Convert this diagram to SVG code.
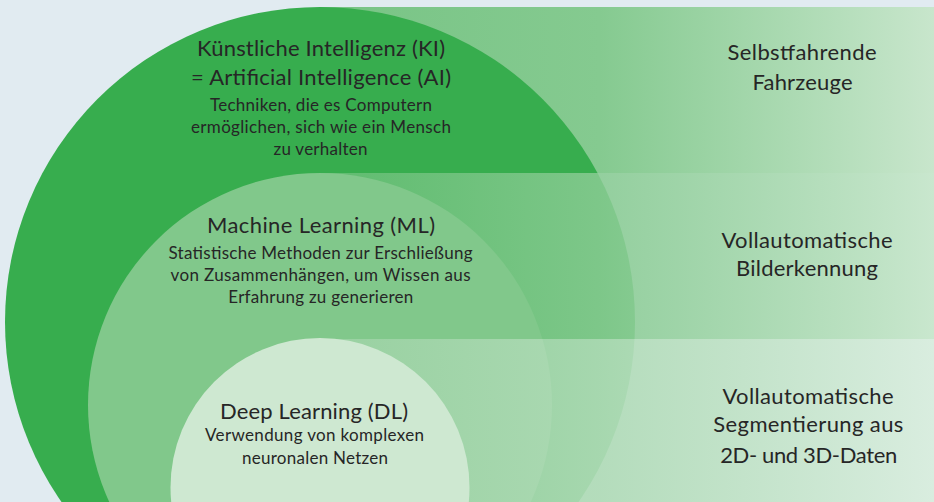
<svg xmlns="http://www.w3.org/2000/svg" width="934" height="502" viewBox="0 0 934 502">
  <defs>
    <!-- horizontal bands fade from the circle tint on the left to a pale tint on the right -->
    <linearGradient id="bandTop" gradientUnits="userSpaceOnUse" x1="320" y1="0" x2="934" y2="0">
      <stop offset="0" stop-color="#78c485"/>
      <stop offset="0.456" stop-color="#85ca90"/>
      <stop offset="1" stop-color="#c8e6cc"/>
    </linearGradient>
    <linearGradient id="bandMid" gradientUnits="userSpaceOnUse" x1="320" y1="0" x2="934" y2="0">
      <stop offset="0" stop-color="#80c88a" stop-opacity="0.55"/>
      <stop offset="0.456" stop-color="#88cb92" stop-opacity="0.87"/>
      <stop offset="1" stop-color="#c9e7ce" stop-opacity="1"/>
    </linearGradient>
    <linearGradient id="bandLow" gradientUnits="userSpaceOnUse" x1="320" y1="0" x2="934" y2="0">
      <stop offset="0" stop-color="#9ed3a6" stop-opacity="0.8"/>
      <stop offset="0.456" stop-color="#b0dbb7" stop-opacity="0.92"/>
      <stop offset="1" stop-color="#d9eddf" stop-opacity="1"/>
    </linearGradient>
  </defs>
  <style>
    text { font-family: Lato, "Liberation Sans", sans-serif; fill: #262626; text-anchor: middle; }
    .h { font-size: 22px; }
    .s { font-size: 17px; }
    .c1 { fill: #37ad4e; }
    .c2 { fill: #81c88b; }
    .c3 { fill: #cee8d1; }
  </style>

  <rect x="0" y="0" width="934" height="502" fill="#e1ebf1"/>

  <!-- application band: self-driving vehicles -->
  <g id="app-vehicles">
    <rect x="320" y="7" width="614" height="166" fill="url(#bandTop)"/>
    <text class="h" x="802" y="60" textLength="149">Selbstfahrende</text>
    <text class="h" x="802.5" y="90" textLength="100">Fahrzeuge</text>
  </g>

  <!-- outer circle: artificial intelligence -->
  <g id="ki">
    <circle class="c1" cx="320" cy="322" r="315"/>
    <text class="h" x="321" y="56" textLength="248">Künstliche Intelligenz (KI)</text>
    <text class="h" x="321" y="85" textLength="260">= Artificial Intelligence (AI)</text>
    <text class="s" x="321" y="110.5" textLength="222">Techniken, die es Computern</text>
    <text class="s" x="321" y="132.5" textLength="260">ermöglichen, sich wie ein Mensch</text>
    <text class="s" x="320.5" y="155" textLength="94">zu verhalten</text>
  </g>

  <!-- application band: image recognition -->
  <g id="app-recognition">
    <rect x="320" y="173" width="614" height="166" fill="url(#bandMid)"/>
    <text class="h" x="807" y="247.5" textLength="171">Vollautomatische</text>
    <text class="h" x="807" y="276" textLength="142">Bilderkennung</text>
  </g>

  <!-- middle circle: machine learning -->
  <g id="ml">
    <circle class="c2" cx="320" cy="405" r="232"/>
    <text class="h" x="321" y="233" textLength="228">Machine Learning (ML)</text>
    <text class="s" x="320.5" y="258.5" textLength="304">Statistische Methoden zur Erschließung</text>
    <text class="s" x="320.5" y="281" textLength="300">von Zusammenhängen, um Wissen aus</text>
    <text class="s" x="320.8" y="303" textLength="185">Erfahrung zu generieren</text>
  </g>

  <!-- application band: segmentation of 2D and 3D data -->
  <g id="app-segmentation">
    <rect x="320" y="339" width="614" height="163" fill="url(#bandLow)"/>
    <text class="h" x="808" y="403.5" textLength="171">Vollautomatische</text>
    <text class="h" x="808.3" y="432" textLength="190">Segmentierung aus</text>
    <text class="h" x="808.7" y="462.5" textLength="177">2D- und 3D-Daten</text>
  </g>

  <!-- inner circle: deep learning -->
  <g id="dl">
    <circle class="c3" cx="320" cy="487.5" r="149.5"/>
    <text class="h" x="314" y="418.5" textLength="188">Deep Learning (DL)</text>
    <text class="s" x="314.5" y="441" textLength="219">Verwendung von komplexen</text>
    <text class="s" x="315" y="463.5" textLength="146">neuronalen Netzen</text>
  </g>
</svg>
